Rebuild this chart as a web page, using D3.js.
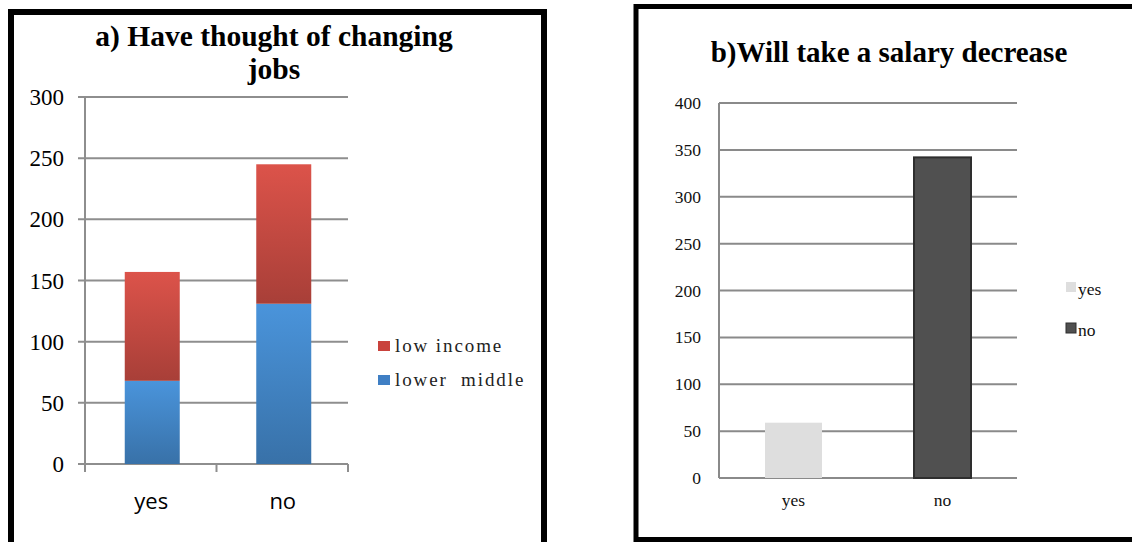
<!DOCTYPE html>
<html>
<head>
<meta charset="utf-8">
<script src="https://cdn.jsdelivr.net/npm/d3@7"></script>
<style>
  html, body { margin: 0; padding: 0; background: #fff; }
  svg { display: block; }
</style>
</head>
<body>
<svg id="chart" width="1132" height="542"></svg>
<script>
// ---------- Data ----------
const catsA = ["yes", "no"];
const lowerMiddle = [68, 131];
const lowIncome = [89, 114];
const seriesA = ["low income", "lower  middle"];
const ticksA = [0, 50, 100, 150, 200, 250, 300];

const catsB = ["yes", "no"];
const valuesB = [59, 342];
const ticksB = [0, 50, 100, 150, 200, 250, 300, 350, 400];

const titleA = ["a) Have thought of changing", "jobs"];
const titleB = "b)Will take a salary decrease";

const svg = d3.select("#chart");
const defs = svg.append("defs");

function grad(id, top, bottom) {
  const g = defs.append("linearGradient").attr("id", id)
    .attr("x1", 0).attr("y1", 0).attr("x2", 0).attr("y2", 1);
  g.append("stop").attr("offset", "0%").attr("stop-color", top);
  g.append("stop").attr("offset", "100%").attr("stop-color", bottom);
}
grad("gRed", "#dc534a", "#a83f38");
grad("gBlue", "#4a94db", "#3871a8");

const serif = "'Liberation Serif', 'Times New Roman', serif";
const sans = "'Open Sans', 'Liberation Sans', sans-serif";

// ---------- Frames ----------
svg.append("rect").attr("x", 11).attr("y", 12).attr("width", 533).attr("height", 560)
  .attr("fill", "none").attr("stroke", "#000").attr("stroke-width", 6);
svg.append("rect").attr("x", 636).attr("y", 6.5).attr("width", 560).attr("height", 533)
  .attr("fill", "none").attr("stroke", "#000").attr("stroke-width", 5);

// ---------- Chart A ----------
{
  const x = d3.scaleBand().domain(catsA).range([85, 348]).paddingInner(0).paddingOuter(0);
  const y = d3.scaleLinear().domain([0, 300]).range([464, 97]);
  const g = svg.append("g");

  g.selectAll("line.grid").data(ticksA).join("line")
    .attr("x1", 78).attr("x2", 348)
    .attr("y1", d => y(d)).attr("y2", d => y(d))
    .attr("stroke", "#8e8e8e").attr("stroke-width", 2);
  g.append("line").attr("x1", 85).attr("x2", 85).attr("y1", y(300)).attr("y2", y(0) + 8)
    .attr("stroke", "#8e8e8e").attr("stroke-width", 2);
  const bounds = [85, x("no"), 348];
  g.selectAll("line.xt").data(bounds).join("line")
    .attr("x1", d => d).attr("x2", d => d).attr("y1", y(0)).attr("y2", y(0) + 8)
    .attr("stroke", "#8e8e8e").attr("stroke-width", 2);

  g.selectAll("text.yl").data(ticksA).join("text")
    .attr("x", 64).attr("y", d => y(d) + 8)
    .attr("text-anchor", "end")
    .attr("font-family", serif).attr("font-size", 23).attr("fill", "#000")
    .text(d => d);

  const bw = 55;
  const cx = d => x(d) + x.bandwidth() / 2 + 1.5;
  catsA.forEach((c, i) => {
    const lm = lowerMiddle[i], li = lowIncome[i];
    g.append("rect").attr("x", cx(c) - bw / 2).attr("width", bw)
      .attr("y", y(lm)).attr("height", y(0) - y(lm)).attr("fill", "url(#gBlue)");
    g.append("rect").attr("x", cx(c) - bw / 2).attr("width", bw)
      .attr("y", y(lm + li)).attr("height", y(lm) - y(lm + li)).attr("fill", "url(#gRed)");
  });

  g.selectAll("text.xl").data(catsA).join("text")
    .attr("x", d => cx(d) - 1).attr("y", 509)
    .attr("text-anchor", "middle")
    .attr("font-family", sans).attr("font-size", 22).attr("fill", "#000")
    .text(d => d);

  titleA.forEach((t, i) => {
    g.append("text").attr("x", 274).attr("y", 46 + i * 33)
      .attr("text-anchor", "middle")
      .attr("font-family", serif).attr("font-weight", "bold").attr("font-size", 29.5)
      .attr("fill", "#000").text(t);
  });

  const legColors = ["#c9423c", "#3f7fc4"];
  seriesA.forEach((s, i) => {
    g.append("rect").attr("x", 378).attr("y", 341 + i * 34).attr("width", 12).attr("height", 10)
      .attr("fill", legColors[i]);
    g.append("text").attr("x", 395).attr("y", 352 + i * 34)
      .attr("font-family", serif).attr("font-size", 19).attr("letter-spacing", 1.9)
      .attr("fill", "#222").style("white-space", "pre")
      .text(s);
  });
}

// ---------- Chart B ----------
{
  const x = d3.scaleBand().domain(catsB).range([719, 1017]);
  const y = d3.scaleLinear().domain([0, 400]).range([478, 103]);
  const g = svg.append("g");

  g.selectAll("line.grid").data(ticksB).join("line")
    .attr("x1", 719).attr("x2", 1017)
    .attr("y1", d => y(d)).attr("y2", d => y(d))
    .attr("stroke", "#8a8a8a").attr("stroke-width", 2);
  g.append("line").attr("x1", 719).attr("x2", 719).attr("y1", y(400)).attr("y2", y(0))
    .attr("stroke", "#8a8a8a").attr("stroke-width", 2);

  g.selectAll("text.yl").data(ticksB).join("text")
    .attr("x", 701).attr("y", d => y(d) + 6)
    .attr("text-anchor", "end")
    .attr("font-family", serif).attr("font-size", 17.5).attr("fill", "#111")
    .text(d => d);

  const bw = 57;
  const cx = d => x(d) + x.bandwidth() / 2;
  const fills = ["#dedede", "#505050"];
  const strokes = ["none", "#2e2e2e"];
  g.selectAll("rect.bar").data(catsB).join("rect")
    .attr("x", d => cx(d) - bw / 2).attr("width", bw)
    .attr("y", (d, i) => y(valuesB[i])).attr("height", (d, i) => y(0) - y(valuesB[i]))
    .attr("fill", (d, i) => fills[i])
    .attr("stroke", (d, i) => strokes[i]).attr("stroke-width", 2);

  g.selectAll("text.xl").data(catsB).join("text")
    .attr("x", d => cx(d)).attr("y", 506)
    .attr("text-anchor", "middle")
    .attr("font-family", serif).attr("font-size", 17.5).attr("fill", "#111")
    .text(d => d);

  g.append("text").attr("x", 889).attr("y", 62)
    .attr("text-anchor", "middle")
    .attr("font-family", serif).attr("font-weight", "bold").attr("font-size", 29)
    .attr("fill", "#000").text(titleB);

  catsB.forEach((c, i) => {
    g.append("rect").attr("x", 1066).attr("y", 282 + i * 41).attr("width", 10).attr("height", 10)
      .attr("fill", fills[i]).attr("stroke", strokes[i]).attr("stroke-width", 1);
    g.append("text").attr("x", 1078).attr("y", 295 + i * 41)
      .attr("font-family", serif).attr("font-size", 17.5).attr("fill", "#111")
      .text(c);
  });
}
</script>
</body>
</html>
